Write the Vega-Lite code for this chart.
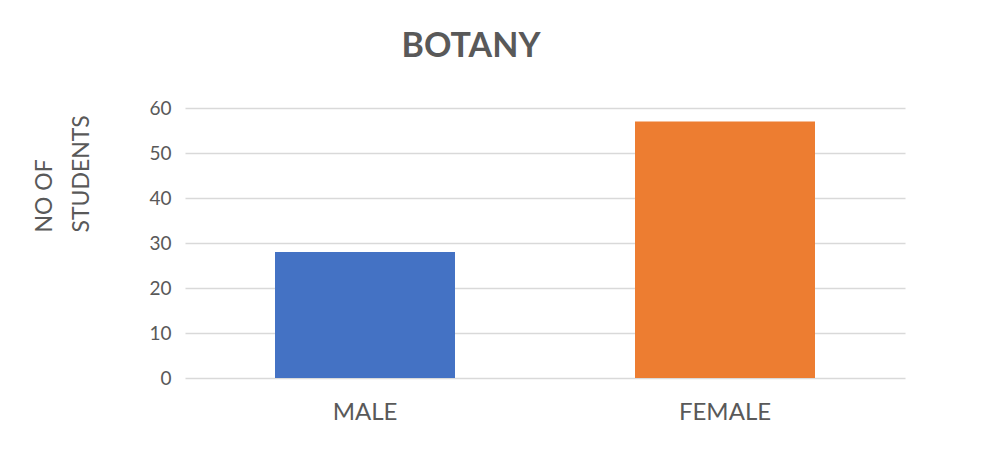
{
  "$schema": "https://vega.github.io/schema/vega-lite/v6.json",
  "width": 720,
  "height": 270,
  "autosize": {"type": "none"},
  "padding": {"left": 185, "top": 108, "right": 91, "bottom": 88},
  "background": "white",
  "title": {
    "text": "BOTANY",
    "font": "Lato",
    "fontSize": 34,
    "fontWeight": "bold",
    "color": "#595959",
    "anchor": "middle",
    "frame": "group",
    "dx": -74,
    "offset": 8,
    "baseline": "alphabetic"
  },
  "data": {
    "values": [
      {"gender": "MALE", "students": 28},
      {"gender": "FEMALE", "students": 57}
    ]
  },
  "mark": {"type": "bar"},
  "encoding": {
    "x": {
      "field": "gender",
      "type": "nominal",
      "sort": ["MALE", "FEMALE"],
      "scale": {"paddingInner": 0.5, "paddingOuter": 0.25},
      "axis": {
        "title": null,
        "labelAngle": 0,
        "labelFont": "Lato",
        "labelFontSize": 24,
        "labelColor": "#595959",
        "labelPadding": 22,
        "ticks": false,
        "domain": false
      }
    },
    "y": {
      "field": "students",
      "type": "quantitative",
      "scale": {"domain": [0, 60]},
      "axis": {
        "values": [0, 10, 20, 30, 40, 50, 60],
        "title": ["NO OF", "STUDENTS"],
        "titleFont": "Lato",
        "titleFontSize": 23,
        "titleFontWeight": "normal",
        "titleColor": "#595959",
        "titleAngle": 270,
        "titleAlign": "left",
        "titleBaseline": "top",
        "titleX": -152,
        "titleY": 124,
        "titleLineHeight": 37,
        "labelFont": "Lato",
        "labelFontSize": 19,
        "labelColor": "#595959",
        "labelPadding": 14,
        "ticks": false,
        "domain": false,
        "grid": true,
        "gridColor": "#d9d9d9",
        "gridWidth": 1.5
      }
    },
    "color": {
      "field": "gender",
      "type": "nominal",
      "scale": {"domain": ["MALE", "FEMALE"], "range": ["#4472C4", "#ED7D31"]},
      "legend": null
    }
  },
  "config": {"view": {"stroke": null}}
}
